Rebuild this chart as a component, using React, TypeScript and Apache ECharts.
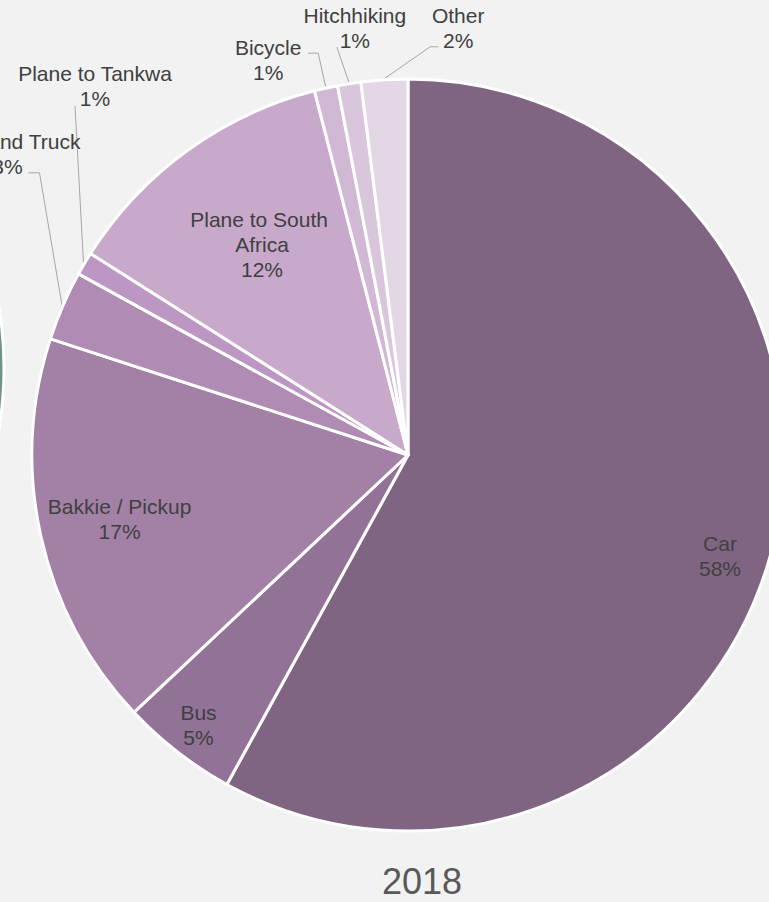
import React, { useEffect, useRef } from "react";
import * as echarts from "echarts";

// ---- data ----
const categories = [
  "Car",
  "Bus",
  "Bakkie / Pickup",
  "Lorry and Truck",
  "Plane to Tankwa",
  "Plane to South Africa",
  "Bicycle",
  "Hitchhiking",
  "Other",
];
const shares = [58, 5, 17, 3, 1, 12, 1, 1, 2];
const sliceColors = [
  "#806583",
  "#937298",
  "#a380a6",
  "#b08cb4",
  "#bd97c3",
  "#c8a9cc",
  "#d1b9d5",
  "#d9c6dc",
  "#e3d7e5",
];
// fragment of the neighbouring (previous year) chart, visible at the left edge
const neighbourShares = [100];
const neighbourColor = "#6f928d";
const titleText = "2018";

// ---- label placement (style) ----
const labelRadius = [0.872, 0.909, 0.786, 1.332, 1.287, 0.682, 1.114, 1.144, 1.144];
const labelTurn = [3.5, 0, 0, 13.5, 19.1, 1.3, -6.9, 1.9, 10.3];
const lineBend: (number[][] | null)[] = [
  null,
  null,
  null,
  [[32, 18.5], [21, 18.5]],
  [[-20, 20], [-20, 20]],
  null,
  [[50, -7], [40, -7]],
  [[-18, 19], [-18, 19]],
  [[-28, 19], [-20, 19]],
];

const OFF = 400; // chart canvas extends beyond the visible page on both sides
const W = 769;
const H = 902;
const CX = 408 + OFF;
const CY = 455;
const R = 376;
const FONT = "'Liberation Sans', Arial, sans-serif";

export default function App() {
  const ref = useRef<HTMLDivElement>(null);
  useEffect(() => {
    if (!ref.current) return;
    const chart = echarts.init(ref.current, null, { renderer: "svg" });
    const total = shares.reduce((a, b) => a + b, 0);
    const mids: number[] = [];
    let acc = 0;
    shares.forEach((v) => {
      mids.push(((acc + v / 2) / total) * 360);
      acc += v;
    });
    const polar = (deg: number, r: number) => [
      CX + r * Math.sin((deg * Math.PI) / 180),
      CY - r * Math.cos((deg * Math.PI) / 180),
    ];
    chart.setOption({
      animation: false,
      backgroundColor: "#f2f2f2",
      title: {
        text: titleText,
        left: 382 + OFF,
        top: 863,
        padding: 0,
        textStyle: { fontSize: 36, fontWeight: "normal", color: "#595959", fontFamily: FONT },
      },
      series: [
        {
          type: "pie",
          center: [CX, CY],
          radius: R,
          startAngle: 90,
          clockwise: true,
          avoidLabelOverlap: false,
          emphasis: { disabled: true },
          itemStyle: { borderColor: "#ffffff", borderWidth: 3 },
          label: {
            formatter: (p: any) => `${p.name}\n${Math.round(p.percent)}%`,
            color: "#404040",
            fontSize: 21,
            lineHeight: 25,
            fontFamily: FONT,
          },
          labelLine: { lineStyle: { color: "#a6a6a6", width: 1 } },
          labelLayout: (p: any) => {
            const i = p.dataIndex;
            const [x, y] = polar(mids[i] + labelTurn[i], R * labelRadius[i]);
            const out: any = { x, y, align: "center", verticalAlign: "middle" };
            const bend = lineBend[i];
            if (bend) {
              out.labelLinePoints = [
                polar(mids[i], R + 1),
                [x + bend[0][0], y + bend[0][1]],
                [x + bend[1][0], y + bend[1][1]],
              ];
            }
            return out;
          },
          data: categories.map((name, i) => {
            const outside = labelRadius[i] > 1;
            return {
              name,
              value: shares[i],
              itemStyle: { color: sliceColors[i] },
              label: {
                position: outside ? "outside" : "inside",
                ...(name === "Plane to South Africa" ? { width: 150, overflow: "break" } : {}),
              },
              labelLine: { show: outside },
            };
          }),
        },
        {
          type: "pie",
          center: [-372 + OFF, 368],
          radius: R,
          silent: true,
          emphasis: { disabled: true },
          label: { show: false },
          labelLine: { show: false },
          itemStyle: { color: neighbourColor, borderColor: "#ffffff", borderWidth: 3 },
          data: neighbourShares.map((v) => ({ name: "2017", value: v })),
        },
      ],
    });
    return () => chart.dispose();
  }, []);
  return (
    <div
      style={{
        position: "fixed",
        left: 0,
        top: 0,
        width: W,
        height: H,
        overflow: "hidden",
        background: "#f2f2f2",
      }}
    >
      <div
        ref={ref}
        style={{ position: "absolute", left: -OFF, top: 0, width: W + 2 * OFF, height: H }}
      />
    </div>
  );
}
